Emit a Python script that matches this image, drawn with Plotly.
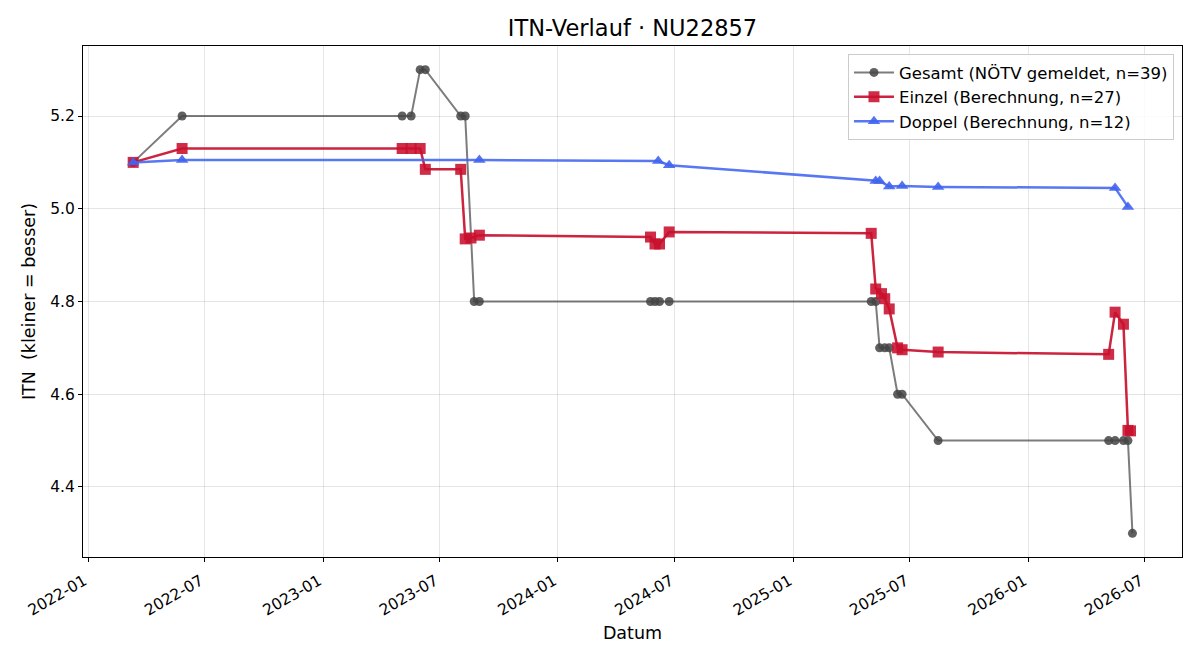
import plotly.graph_objects as go

# Gesamt (NÖTV gemeldet)
gesamt_dates = ["2022-03-12", "2022-05-27", "2023-05-04", "2023-05-18", "2023-06-01", "2023-06-09",
                "2023-08-03", "2023-08-10", "2023-08-24", "2023-09-01", "2024-05-24", "2024-05-31",
                "2024-06-07", "2024-06-22", "2025-05-02", "2025-05-09", "2025-05-15", "2025-05-23",
                "2025-05-30", "2025-06-12", "2025-06-19", "2025-08-14", "2026-05-06", "2026-05-16",
                "2026-05-29", "2026-06-05", "2026-06-12"]
gesamt_vals = [5.1, 5.2, 5.2, 5.2, 5.3, 5.3,
               5.2, 5.2, 4.8, 4.8, 4.8, 4.8,
               4.8, 4.8, 4.8, 4.8, 4.7, 4.7,
               4.7, 4.6, 4.6, 4.5, 4.5, 4.5,
               4.5, 4.5, 4.3]

# Einzel (Berechnung)
einzel_dates = ["2022-03-12", "2022-05-27", "2023-05-04", "2023-05-18", "2023-06-01", "2023-06-09",
                "2023-08-03", "2023-08-10", "2023-08-19", "2023-09-01", "2024-05-24", "2024-05-31",
                "2024-06-07", "2024-06-22", "2025-05-02", "2025-05-09", "2025-05-18", "2025-05-23",
                "2025-05-30", "2025-06-12", "2025-06-19", "2025-08-14", "2026-05-06", "2026-05-16",
                "2026-05-29", "2026-06-05", "2026-06-09"]
einzel_vals = [5.100, 5.130, 5.130, 5.130, 5.130, 5.085,
               5.085, 4.935, 4.937, 4.943, 4.939, 4.924,
               4.924, 4.950, 4.947, 4.827, 4.817, 4.806,
               4.784, 4.700, 4.696, 4.691, 4.686, 4.777,
               4.751, 4.522, 4.521]

# Doppel (Berechnung)
doppel_dates = ["2022-03-12", "2022-05-27", "2023-09-01", "2024-06-05", "2024-06-22", "2025-05-09",
                "2025-05-15", "2025-05-30", "2025-06-19", "2025-08-14", "2026-05-16", "2026-06-05"]
doppel_vals = [5.100, 5.105, 5.105, 5.103, 5.094, 5.060,
               5.060, 5.048, 5.049, 5.047, 5.045, 5.004]

fig = go.Figure()
fig.add_trace(go.Scatter(
    x=gesamt_dates, y=gesamt_vals, mode="lines+markers",
    name="Gesamt (NÖTV gemeldet, n=39)",
    line=dict(color="rgba(68,68,68,0.7)", width=2),
    marker=dict(symbol="circle", size=9, color="rgba(68,68,68,0.85)", line=dict(width=0)),
))
fig.add_trace(go.Scatter(
    x=einzel_dates, y=einzel_vals, mode="lines+markers",
    name="Einzel (Berechnung, n=27)",
    line=dict(color="rgba(200,16,46,0.92)", width=2.5),
    marker=dict(symbol="square", size=11, color="rgba(200,16,46,0.88)", line=dict(width=0)),
))
fig.add_trace(go.Scatter(
    x=doppel_dates, y=doppel_vals, mode="lines+markers",
    name="Doppel (Berechnung, n=12)",
    line=dict(color="rgba(65,100,240,0.88)", width=2.5),
    marker=dict(symbol="triangle-up", size=11, color="rgba(65,100,240,0.9)", line=dict(width=0)),
))

font = "DejaVu Sans, sans-serif"
fig.update_layout(
    width=1200, height=660,
    margin=dict(l=83, r=18, t=46, b=103),
    paper_bgcolor="white", plot_bgcolor="white",
    font=dict(family=font, size=15, color="black"),
    title=dict(text="ITN-Verlauf · NU22857", xref="paper", x=0.5, xanchor="center",
               yref="container", y=0.957, yanchor="middle",
               font=dict(family=font, size=22.5, color="black")),
    legend=dict(x=0.9927, y=0.984, xanchor="right", yanchor="top",
                bgcolor="rgba(255,255,255,0.85)", bordercolor="#cccccc", borderwidth=1,
                font=dict(family=font, size=16.5), tracegroupgap=0, itemwidth=40),
    showlegend=True,
)
fig.update_xaxes(
    range=["2021-12-24", "2026-08-28"],
    tick0="2022-01-01", dtick="M6", tickformat="%Y-%m", tickangle=-30,
    ticks="outside", ticklen=4, tickcolor="black",
    ticklabelstandoff=4, ticklabelshift=-4,
    showline=True, linecolor="black", linewidth=1, mirror=True,
    showgrid=True, gridcolor="rgba(0,0,0,0.1)", zeroline=False,
    title=dict(text="Datum", font=dict(family=font, size=17.5), standoff=8),
    tickfont=dict(family=font, size=15.5),
)
fig.update_yaxes(
    range=[4.249, 5.351],
    tickvals=[4.4, 4.6, 4.8, 5.0, 5.2], tickformat=".1f",
    ticks="outside", ticklen=4, tickcolor="black",
    showline=True, linecolor="black", linewidth=1, mirror=True,
    showgrid=True, gridcolor="rgba(0,0,0,0.1)", zeroline=False,
    title=dict(text="ITN\u00a0 (kleiner = besser)", font=dict(family=font, size=17.5), standoff=10),
    tickfont=dict(family=font, size=15.5),
)

fig.write_html("out.html")
